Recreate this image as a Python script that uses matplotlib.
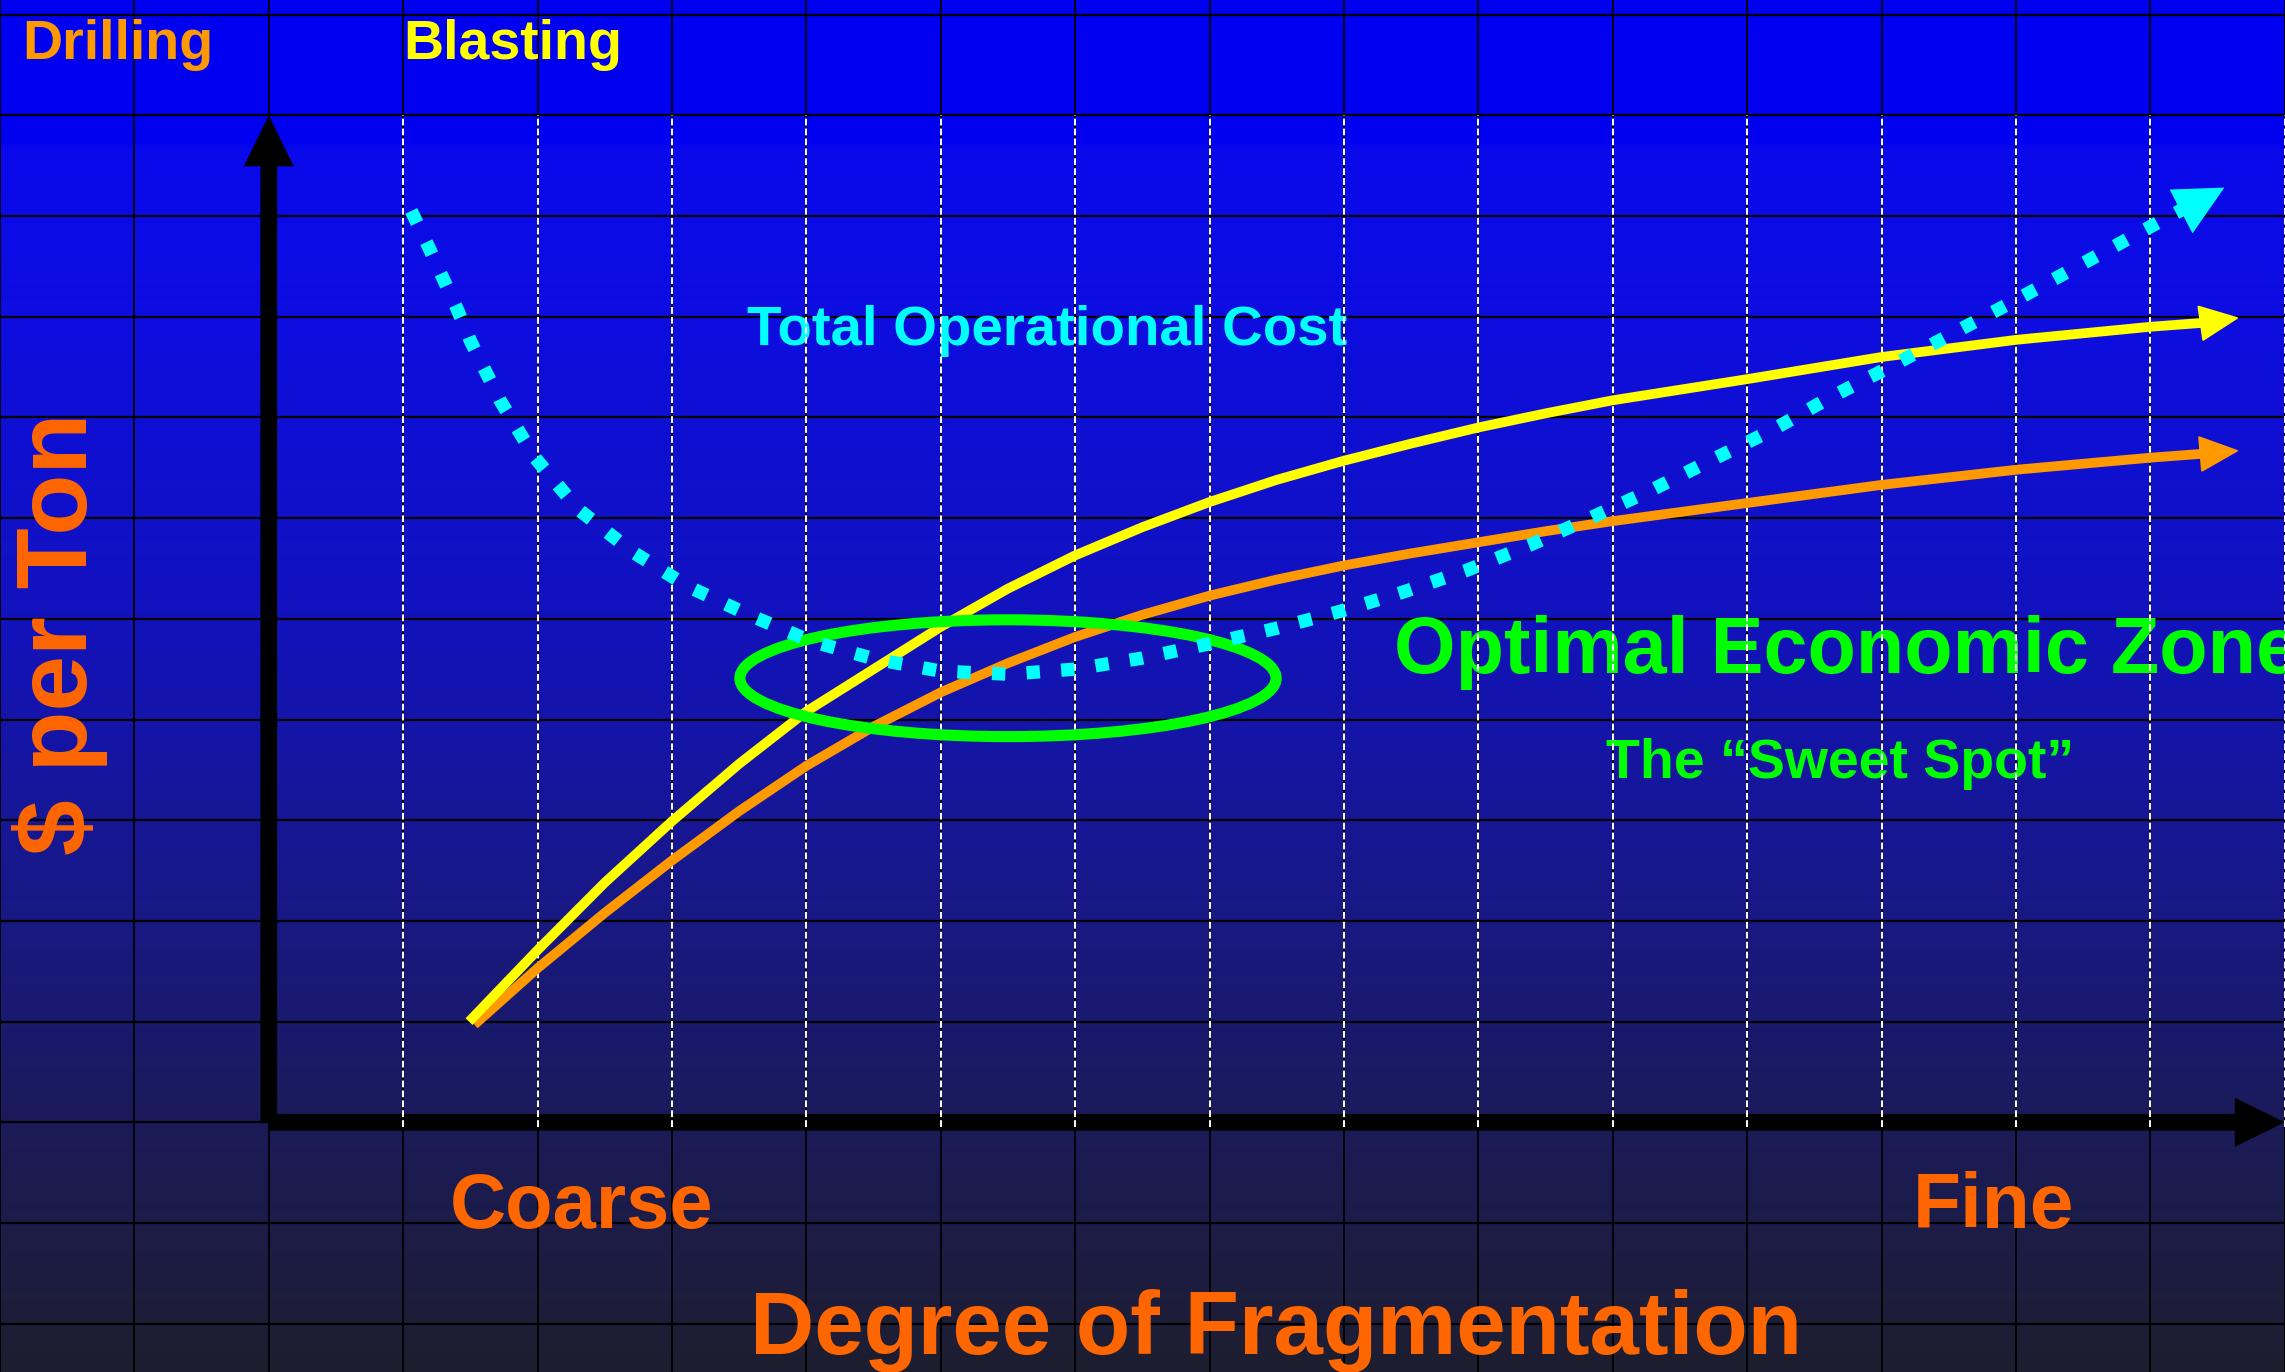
import numpy as np
import matplotlib
matplotlib.use('Agg')
import matplotlib.pyplot as plt
from matplotlib.patches import Ellipse

# curve values in grid units (x: columns right of the $ axis, y: rows above the x axis)
yellow_x = [1.49, 2.0, 2.5, 3.0, 3.5, 4.0, 4.5, 5.0, 5.5, 6.0, 6.5, 7.0, 7.5, 8.0, 8.5, 9.0, 9.5,
            10.0, 11.0, 12.0, 13.0, 14.0, 14.4, 14.66]
yellow_y = [1.0, 1.71, 2.38, 2.99, 3.56, 4.08, 4.5, 4.92, 5.3, 5.63, 5.91, 6.16, 6.38, 6.57, 6.74, 6.9, 7.04,
            7.17, 7.38, 7.6, 7.77, 7.9, 7.94, 7.99]

orange_x = [1.53, 2.0, 2.5, 3.0, 3.5, 4.0, 4.5, 5.0, 5.5, 6.0, 6.5, 7.0, 7.5, 8.0, 8.5, 9.0, 9.5,
            10.0, 11.0, 12.0, 13.0, 14.0, 14.4, 14.66]
orange_y = [0.97, 1.53, 2.08, 2.6, 3.09, 3.54, 3.93, 4.27, 4.56, 4.82, 5.04, 5.23, 5.39, 5.53, 5.65, 5.76, 5.87,
            5.97, 6.15, 6.33, 6.48, 6.6, 6.64, 6.67]

cost_x = [1.06, 1.19, 1.30, 1.40, 1.50, 1.72, 1.98, 2.30, 2.70, 3.12, 3.57, 4.03, 4.51, 5.0, 5.5, 6.0,
          6.5, 6.99, 7.48, 7.96, 8.45, 8.91, 9.38, 9.83, 10.29, 10.74, 11.18, 11.62, 12.06, 12.51,
          12.95, 13.39, 13.83, 14.05, 14.33]
cost_y = [9.05, 8.69, 8.37, 8.08, 7.76, 7.17, 6.60, 6.09, 5.67, 5.32, 5.04, 4.78, 4.60, 4.48, 4.45, 4.50,
          4.61, 4.75, 4.90, 5.07, 5.27, 5.48, 5.73, 6.0, 6.28, 6.58, 6.87, 7.20, 7.50, 7.82,
          8.13, 8.45, 8.77, 8.93, 9.13]

# sweet spot ellipse
zone_x, zone_y = 5.5, 4.41
zone_w, zone_h = 3.99, 1.16

W, H = 2285, 1372
font = 'Liberation Sans'

fig = plt.figure(figsize=(W / 100, H / 100), dpi=100)

# background: blue gradient + black grid
bg = fig.add_axes([0, 0, 1, 1])
stops_y = [0, 140, 150, 300, 600, 900, 1130, 1372]
stops_c = np.array([[0, 0, 242], [0, 0, 240], [9, 9, 236], [13, 13, 226],
                    [18, 18, 192], [24, 24, 135], [27, 27, 88], [30, 30, 48]]) / 255.0
yy = np.arange(H)
grad = np.stack([np.interp(yy, stops_y, stops_c[:, i]) for i in range(3)], axis=1)[:, None, :]
bg.imshow(grad, extent=[0, W, H, 0], aspect='auto', interpolation='bilinear')
for k in range(18):
    bg.axvline(134.4 * k, color='black', lw=1.3)
for k in range(14):
    bg.axhline(14.6 + 100.7 * k, color='black', lw=1.6)
bg.set_xlim(0, W)
bg.set_ylim(H, 0)
bg.axis('off')

bold = dict(family=font, fontweight='bold', va='baseline')
bg.text(22, 59, 'Drilling', color='#FF9900', fontsize=40, **bold)
bg.text(403, 59, 'Blasting', color='#FFFF00', fontsize=40, **bold)
bg.text(747, 345, 'Total Operational Cost', color='#00FFFF', fontsize=40.6, **bold)
bg.text(1394, 673, 'Optimal Economic Zone', color='#00FF00', fontsize=57, **bold)
bg.text(1606, 778, 'The \u201cSweet Spot\u201d', color='#00FF00', fontsize=40, **bold)
bg.text(450, 1228, 'Coarse', color='#FF6600', fontsize=56, **bold)
bg.text(1913, 1228, 'Fine', color='#FF6600', fontsize=56.5, **bold)
bg.text(750, 1354, 'Degree of Fragmentation', color='#FF6600', fontsize=64, **bold)
bg.text(87, 855, '$ per Ton', color='#FF6600', fontsize=72, rotation=90,
        rotation_mode='anchor', ha='left', **bold)

# chart area in grid units
ax = fig.add_axes([268.8 / W, 1 - 1122.3 / H, 15 * 134.4 / W, 10 * 100.7 / H])
ax.set_xlim(0, 15)
ax.set_ylim(0, 10)
ax.axis('off')

ax.arrow(0, 0, 0, 10, width=16.7 / 134.4, head_width=50 / 134.4, head_length=51 / 100.7,
         length_includes_head=True, color='black', lw=0, clip_on=False, zorder=2)
ax.arrow(0, 0, 15, 0, width=16.7 / 100.7, head_width=49 / 100.7, head_length=50 / 134.4,
         length_includes_head=True, color='black', lw=0, clip_on=False, zorder=2)

ax.vlines(np.arange(1, 16), -0.05, 10, colors='white', lw=1.4, linestyles=(0, (3.5, 1.6)),
          clip_on=False, zorder=3)

for xs, ys, c, z in [(orange_x, orange_y, '#FF9900', 4), (yellow_x, yellow_y, '#FFFF00', 5)]:
    ax.plot(xs[:-1], ys[:-1], color=c, lw=7, solid_capstyle='butt', solid_joinstyle='round',
            clip_on=False, zorder=z)
    ax.annotate('', xy=(xs[-1], ys[-1]), xytext=(xs[-2], ys[-2]),
                arrowprops=dict(arrowstyle='-|>,head_length=2.6,head_width=1.2', mutation_scale=10,
                                color=c, lw=1.5, shrinkA=0, shrinkB=0), zorder=z, annotation_clip=False)

ax.add_patch(Ellipse((zone_x, zone_y), zone_w, zone_h, fill=False, ec='#00FF00', lw=8, zorder=6))

ax.plot(cost_x, cost_y, color='#00FFFF', lw=9.6, ls=(0, (1, 1.6)), dash_capstyle='butt',
        clip_on=False, zorder=7)
head = [(-26, 14), (29, 16), (-3, -30), (-26, 14)]
ax.plot(cost_x[-1:], cost_y[-1:], ls='none', marker=head, ms=43, color='#00FFFF', mec='none',
        clip_on=False, zorder=7)

fig.savefig('out.png', dpi=100)
